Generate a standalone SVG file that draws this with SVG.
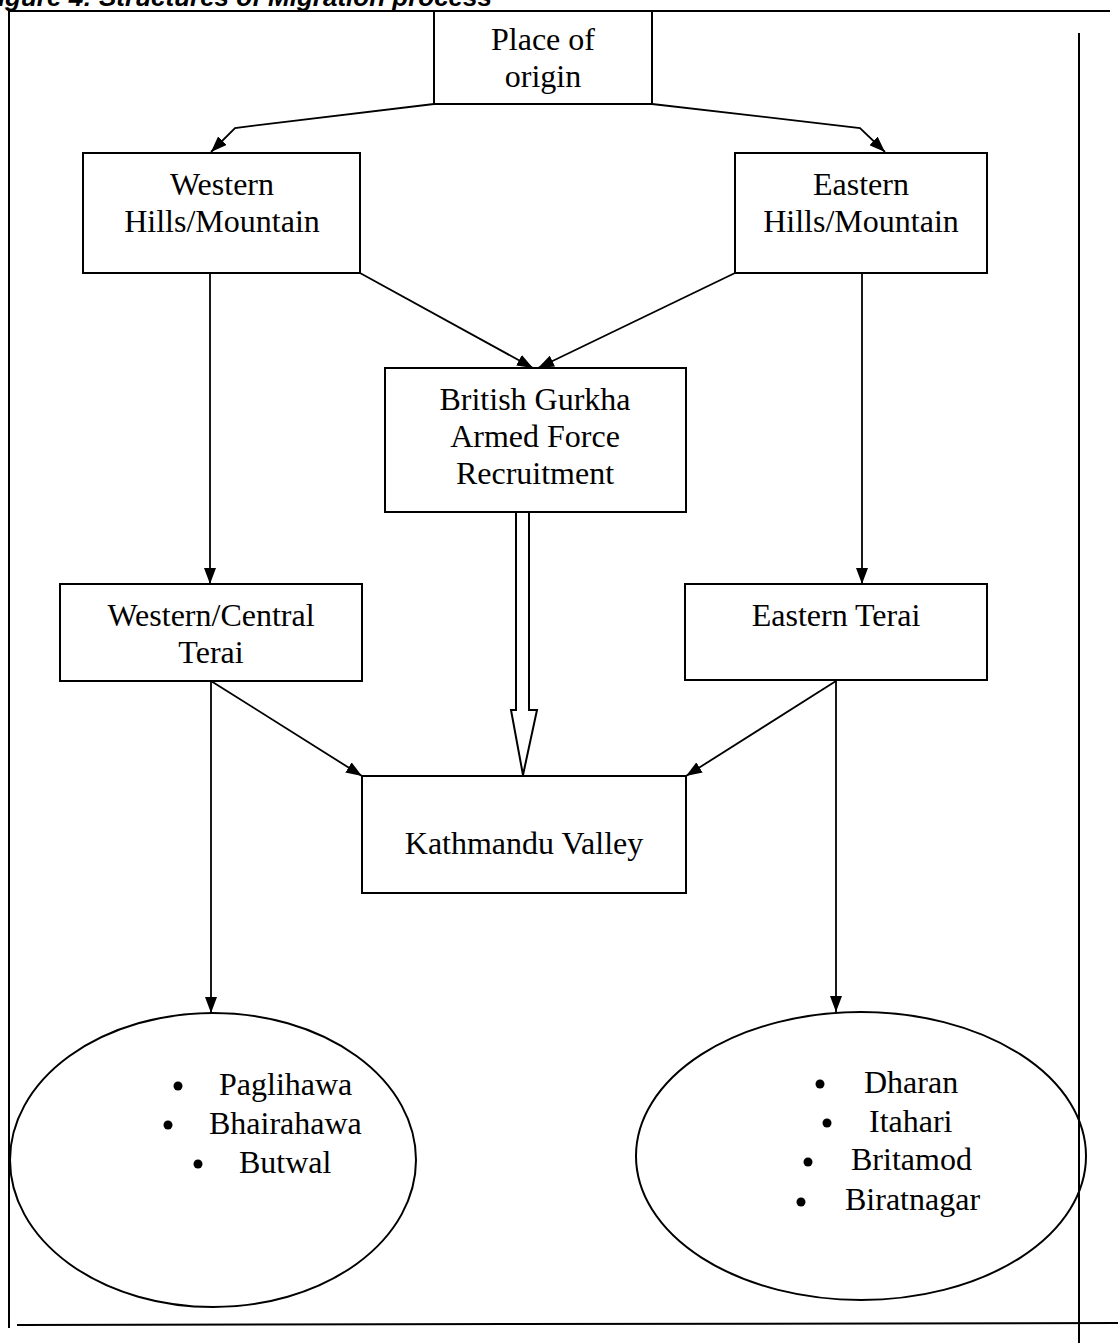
<svg xmlns="http://www.w3.org/2000/svg" width="1118" height="1343" viewBox="0 0 1118 1343">
<style>
  .box { fill: #fff; stroke: #000; stroke-width: 2; }
  .lbl { font-family: "Liberation Serif", "Times New Roman", serif; font-size: 32px; fill: #000; text-anchor: middle; }
  .itm { font-family: "Liberation Serif", "Times New Roman", serif; font-size: 32px; fill: #000; }
  .con { fill: none; stroke: #000; stroke-width: 1.8; }
  .frame { fill: none; stroke: #000; stroke-width: 2; }
  .title { font-family: "Liberation Sans", Arial, sans-serif; font-size: 26px; font-weight: bold; font-style: italic; fill: #000; }
</style>
<defs>
  <marker id="ah" viewBox="0 0 16 12" refX="16" refY="6" markerWidth="16" markerHeight="12" markerUnits="userSpaceOnUse" orient="auto">
    <path d="M0,0 L16,6 L0,12 Z" fill="#000"/>
  </marker>
</defs>
<rect width="1118" height="1343" fill="#fff"/>

<g id="title">
  <text class="title" x="-18" y="6">Figure 4: Structures of Migration process</text>
</g>

<g id="frame">
  <line class="frame" x1="8" y1="11" x2="1110" y2="11"/>
  <line class="frame" x1="9" y1="11" x2="9" y2="1328"/>
  <line class="frame" x1="1079" y1="33" x2="1079" y2="1343"/>
  <line class="frame" x1="17" y1="1325" x2="1118" y2="1323"/>
</g>

<g id="connectors">
  <polyline class="con" points="434,104 235,128 211,152" marker-end="url(#ah)"/>
  <polyline class="con" points="652,104 860,128 885,152" marker-end="url(#ah)"/>
  <line class="con" x1="360" y1="273" x2="533" y2="368" marker-end="url(#ah)"/>
  <line class="con" x1="735" y1="273" x2="538" y2="368" marker-end="url(#ah)"/>
  <line class="con" x1="210" y1="273" x2="210" y2="584" marker-end="url(#ah)"/>
  <line class="con" x1="862" y1="273" x2="862" y2="584" marker-end="url(#ah)"/>
  <line class="con" x1="211" y1="681" x2="362" y2="776" marker-end="url(#ah)"/>
  <line class="con" x1="836" y1="681" x2="686" y2="776" marker-end="url(#ah)"/>
  <line class="con" x1="211" y1="681" x2="211" y2="1013" marker-end="url(#ah)"/>
  <line class="con" x1="836" y1="681" x2="836" y2="1012" marker-end="url(#ah)"/>
  <path d="M516,512 L529,512 L529,710 L537,710 L523,775 L511,710 L516,710 Z" fill="#fff" stroke="#000" stroke-width="2" stroke-linejoin="miter"/>
</g>

<g id="place-of-origin">
  <rect class="box" x="434" y="11" width="218" height="93"/>
  <text class="lbl" x="543" y="50">Place of</text>
  <text class="lbl" x="543" y="87">origin</text>
</g>

<g id="western-hills">
  <rect class="box" x="83" y="153" width="277" height="120"/>
  <text class="lbl" x="222" y="195">Western</text>
  <text class="lbl" x="222" y="232">Hills/Mountain</text>
</g>

<g id="eastern-hills">
  <rect class="box" x="735" y="153" width="252" height="120"/>
  <text class="lbl" x="861" y="195">Eastern</text>
  <text class="lbl" x="861" y="232">Hills/Mountain</text>
</g>

<g id="british-gurkha">
  <rect class="box" x="385" y="368" width="301" height="144"/>
  <text class="lbl" x="535" y="410">British Gurkha</text>
  <text class="lbl" x="535" y="447">Armed Force</text>
  <text class="lbl" x="535" y="484">Recruitment</text>
</g>

<g id="western-central-terai">
  <rect class="box" x="60" y="584" width="302" height="97"/>
  <text class="lbl" x="211" y="626">Western/Central</text>
  <text class="lbl" x="211" y="663">Terai</text>
</g>

<g id="eastern-terai">
  <rect class="box" x="685" y="584" width="302" height="96"/>
  <text class="lbl" x="836" y="626">Eastern Terai</text>
</g>

<g id="kathmandu-valley">
  <rect class="box" x="362" y="776" width="324" height="117"/>
  <text class="lbl" x="524" y="854">Kathmandu Valley</text>
</g>

<g id="western-towns">
  <ellipse class="box" cx="213" cy="1160" rx="203" ry="147"/>
  <circle cx="178" cy="1086" r="4.5" fill="#000"/>
  <text class="itm" x="219" y="1095">Paglihawa</text>
  <circle cx="168" cy="1125" r="4.5" fill="#000"/>
  <text class="itm" x="209" y="1134">Bhairahawa</text>
  <circle cx="198" cy="1164" r="4.5" fill="#000"/>
  <text class="itm" x="239" y="1173">Butwal</text>
</g>

<g id="eastern-towns">
  <ellipse class="box" cx="861" cy="1156" rx="225" ry="144" fill-opacity="0"/>
  <circle cx="820" cy="1084" r="4.5" fill="#000"/>
  <text class="itm" x="864" y="1093">Dharan</text>
  <circle cx="827" cy="1123" r="4.5" fill="#000"/>
  <text class="itm" x="869" y="1132">Itahari</text>
  <circle cx="808" cy="1162" r="4.5" fill="#000"/>
  <text class="itm" x="851" y="1170">Britamod</text>
  <circle cx="801" cy="1202" r="4.5" fill="#000"/>
  <text class="itm" x="845" y="1210">Biratnagar</text>
</g>
</svg>
